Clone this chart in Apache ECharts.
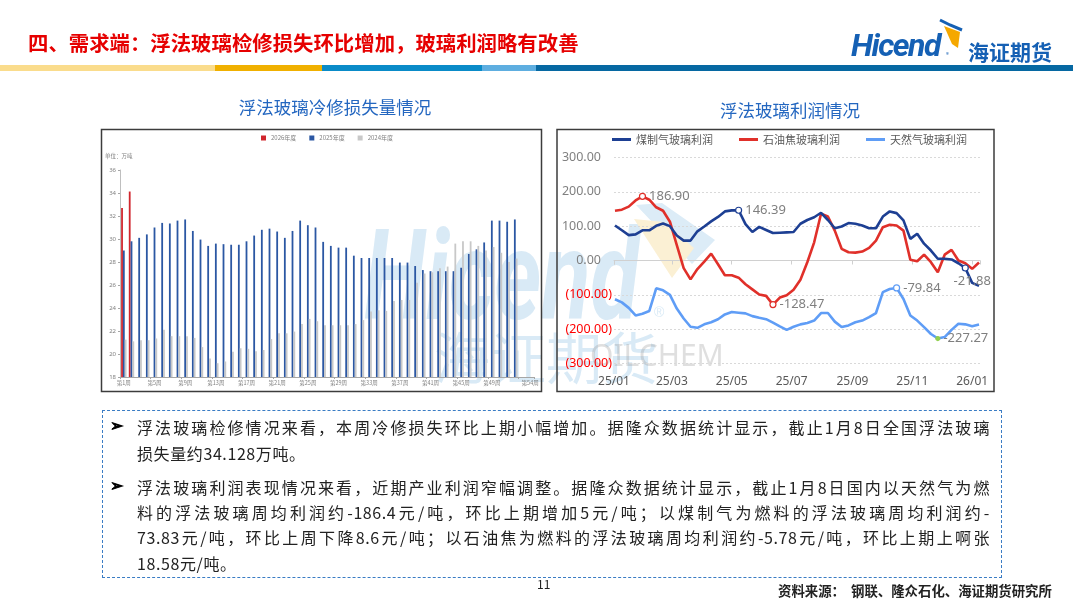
<!DOCTYPE html>
<html><head><meta charset="utf-8">
<script src="https://cdn.jsdelivr.net/npm/echarts@6/dist/echarts.min.js"></script>
<style>
html,body{margin:0;padding:0;background:#fff;}
#wrap{position:relative;width:1080px;height:607px;overflow:hidden;font-family:"Noto Sans CJK SC","Noto Sans",sans-serif;}
#chart{position:absolute;left:0;top:0;width:1080px;height:607px;}
.abs{position:absolute;white-space:nowrap;}
#title{left:28px;top:29px;font-size:20.4px;line-height:26px;font-weight:bold;color:#e60000;}
.band{position:absolute;top:65px;height:6px;}
#logo1{left:851px;top:27px;font-family:Roboto,"Noto Sans",sans-serif;font-size:32px;font-weight:700;font-style:italic;color:#1560b4;letter-spacing:-1.5px;line-height:36px;}
#logo2{left:968px;top:38px;font-size:21px;font-weight:bold;color:#1560b4;line-height:26px;}
#box{left:102px;top:410px;width:898px;height:166px;border:1.5px dashed #3a7cc4;}
.ln{position:absolute;left:137px;width:853px;font-size:16px;line-height:20px;color:#222;letter-spacing:0.6px;white-space:normal;}
.j{text-align:justify;text-align-last:justify;}
.bul{position:absolute;left:110px;font-size:16px;line-height:20px;color:#000;font-weight:bold;font-family:"DejaVu Sans",sans-serif;-webkit-text-stroke:0.9px #000;}
#pg{left:537px;top:576px;font-size:12px;line-height:16px;color:#222;}
#src{left:778px;top:581px;font-size:13.4px;line-height:18px;font-weight:bold;color:#222;}
</style></head>
<body><div id="wrap">
<div id="chart"></div>
<div class="abs" id="title">四、需求端：浮法玻璃检修损失环比增加，玻璃利润略有改善</div>
<div class="band" style="left:0;width:215px;background:#fadc8c;"></div>
<div class="band" style="left:215px;width:107px;background:#f0b000;"></div>
<div class="band" style="left:322px;width:160px;background:#0a8bc8;"></div>
<div class="band" style="left:482px;width:54px;background:#5eaee0;"></div>
<div class="band" style="left:536px;width:537px;background:#0668a2;"></div>
<svg class="abs" style="left:936px;top:16px;" width="34" height="36">
 <polygon points="8,10 24,16 22,32 16,28" fill="#f5a800"/>
 <polyline points="4,4 14,9 26,14" fill="none" stroke="#1560b4" stroke-width="3"/>
</svg>
<div class="abs" id="logo1">Hicend</div>
<div class="abs" style="left:946px;top:50px;font-size:6px;color:#1560b4;">®</div>
<div class="abs" id="logo2">海证期货</div>
<div class="abs" id="box"></div>
<div class="bul" style="top:416px;">➢</div>
<div class="bul" style="top:476px;">➢</div>
<div class="ln j" style="top:417px;">浮法玻璃检修情况来看，本周冷修损失环比上期小幅增加。据隆众数据统计显示，截止1月8日全国浮法玻璃</div>
<div class="ln" style="top:443px;">损失量约34.128万吨。</div>
<div class="ln j" style="top:477px;">浮法玻璃利润表现情况来看，近期产业利润窄幅调整。据隆众数据统计显示，截止1月8日国内以天然气为燃</div>
<div class="ln j" style="top:502px;">料的浮法玻璃周均利润约-186.4元/吨，环比上期增加5元/吨；以煤制气为燃料的浮法玻璃周均利润约-</div>
<div class="ln j" style="top:527px;">73.83元/吨，环比上周下降8.6元/吨；以石油焦为燃料的浮法玻璃周均利润约-5.78元/吨，环比上期上啊张</div>
<div class="ln" style="top:553px;">18.58元/吨。</div>
<div class="abs" id="pg">11</div>
<div class="abs" id="src">资料来源：&nbsp;&nbsp;钢联、隆众石化、海证期货研究所</div>
</div>
<script>
// ---- Left chart: 浮法玻璃冷修损失量 (万吨) ----
const weeks = ['第1周','第2周','第3周','第4周','第5周','第6周','第7周','第8周','第9周','第10周',
 '第11周','第12周','第13周','第14周','第15周','第16周','第17周','第18周','第19周','第20周',
 '第21周','第22周','第23周','第24周','第25周','第26周','第27周','第28周','第29周','第30周',
 '第31周','第32周','第33周','第34周','第35周','第36周','第37周','第38周','第39周','第40周',
 '第41周','第42周','第43周','第44周','第45周','第46周','第47周','第48周','第49周','第50周',
 '第51周','第52周','第53周','第54周'];
const loss2026 = [32.7, 34.128];
const loss2025 = [29.0, 29.8, 30.1, 30.4, 31.0, 31.4, 31.35, 31.6, 31.7, 30.7,
 29.95, 29.4, 29.6, 29.55, 29.5, 29.5, 29.8, 30.3, 30.8, 30.9,
 30.65, 30.1, 30.7, 31.6, 31.2, 31.0, 29.75, 29.4, 29.25, 29.25,
 28.55, 28.35, 28.35, 28.35, 28.35, 28.35, 27.95, 27.95, 27.65, 27.3,
 27.2, 27.2, 27.2, 27.2, 27.5, 28.7, 29.1, 29.7, 31.6, 31.6, 31.5, 31.7];
const loss2024 = [21.25, 21.1, 21.2, 21.2, 21.35, 22.1, 21.55, 21.55, 21.55, 21.4,
 20.6, 19.6, 19.2, 19.35, 20.2, 20.5, 20.45, 20.25, 20.35, 21.3,
 21.8, 21.8, 21.95, 22.6, 23.05, 22.85, 22.5, 22.5, 22.5, 22.5,
 22.6, 22.95, 23.7, 23.8, 23.75, 24.6, 24.7, 24.7, 26.2, 27.0,
 27.1, 27.45, 27.6, 29.6, 29.8, 29.8, 29.4, 29.0, 29.3, 28.8, 28.0, 28.3];
const lossTicks = [18, 20, 22, 24, 26, 28, 30, 32, 34, 36];

// ---- Right chart: 浮法玻璃利润 (元/吨) ----
const dates = ['2025-01-02','2025-01-09','2025-01-16','2025-01-23','2025-01-30',
 '2025-02-06','2025-02-13','2025-02-20','2025-02-27',
 '2025-03-06','2025-03-13','2025-03-20','2025-03-27',
 '2025-04-03','2025-04-10','2025-04-17','2025-04-24',
 '2025-05-01','2025-05-08','2025-05-15','2025-05-22','2025-05-29',
 '2025-06-05','2025-06-12','2025-06-19','2025-06-26',
 '2025-07-03','2025-07-10','2025-07-17','2025-07-24','2025-07-31',
 '2025-08-07','2025-08-14','2025-08-21','2025-08-28',
 '2025-09-04','2025-09-11','2025-09-18','2025-09-25',
 '2025-10-02','2025-10-09','2025-10-16','2025-10-23','2025-10-30',
 '2025-11-06','2025-11-13','2025-11-20','2025-11-27',
 '2025-12-04','2025-12-11','2025-12-18','2025-12-25',
 '2026-01-01','2026-01-08'];
const coalGas = [102, 88, 74, 76, 88, 88, 101, 108, 100, 73,
 58, 58, 85, 99, 114, 127, 143, 146, 146.39, 106,
 83, 98, 89, 80, 81, 82, 83, 107, 118, 126,
 139, 118, 94, 99, 109, 107, 102, 94, 94, 128,
 143, 138, 117, 63, 78, 49, 29, 5, 5, 3,
 -8, -21.88, -65.23, -73.83];
const petCoke = [145, 148, 157, 175, 186.90, 177, 155, 145, 113, 45,
 -22, -55, -25, -3, 20, -11, -43, -43, -50, -69,
 -84, -99, -103, -128.47, -108, -101, -85, -56, -5, 53,
 136, 128, 87, 34, 24, 23, 26, 37, 58, 97,
 104, 102, 87, 2, -2, 17, -5, -34, 17, 31,
 0, -8, -24.36, -5.78];
const natGas = [-113, -122, -138, -160, -155, -147, -81, -87, -100, -140,
 -169, -193, -196, -186, -180, -171, -157, -150, -152, -154,
 -162, -167, -171, -181, -192, -202, -193, -186, -182, -175,
 -153, -153, -178, -194, -189, -180, -175, -165, -153, -92,
 -83, -79.84, -112, -160, -175, -194, -214, -227.27, -223, -202,
 -184, -186, -191.4, -186.4];
const profitTicks = [-300, -200, -100, 0, 100, 200, 300];
const lineNames = ['煤制气玻璃利润', '石油焦玻璃利润', '天然气玻璃利润'];
const barNames = ['2026年度', '2025年度', '2024年度'];

const C_DARK = '#1d3f93', C_RED = '#e0302a', C_LIGHT = '#5f9df6';
const WM = '#d9eaf6';

function lineData(vals, color, labels) {
  return dates.map(function (d, i) {
    const item = { value: [d, vals[i]] };
    const lb = labels[i];
    if (lb) {
      item.symbol = 'circle';
      item.symbolSize = lb.size || 6;
      item.itemStyle = { color: lb.fill || '#fff', borderColor: lb.border || color, borderWidth: 1.2 };
      item.label = { show: true, position: lb.pos, offset: lb.offset || [0, 0], distance: 3,
        formatter: vals[i].toFixed(2), color: '#7f7f7f', fontSize: 13, fontFamily: 'Noto Sans' };
    }
    return item;
  });
}
function ym(v) {
  const d = new Date(v);
  return String(d.getFullYear()).slice(2) + '/' + String(d.getMonth() + 1).padStart(2, '0');
}
const DAY = 86400000;

const chart = echarts.init(document.getElementById('chart'), null, { renderer: 'canvas' });
const option = {
  animation: false,
  textStyle: { fontFamily: 'Noto Sans, Noto Sans CJK SC' },
  legend: [
    { data: barNames, left: 261, top: 135, padding: 0, itemWidth: 5, itemHeight: 5, itemGap: 13, icon: 'rect',
      textStyle: { fontSize: 6, color: '#7f7f7f', fontFamily: 'Noto Sans CJK SC' }, selectedMode: false },
    { data: lineNames, left: 612, top: 134, padding: 0, itemWidth: 19, itemHeight: 3, itemGap: 26, icon: 'rect',
      textStyle: { fontSize: 11, color: '#595959', fontFamily: 'Noto Sans CJK SC' }, selectedMode: false }
  ],
  grid: [
    { left: 120, top: 170, width: 414, height: 207, outerBoundsMode: 'none' },
    { left: 614, top: 157.5, width: 366, height: 206, outerBoundsMode: 'none' }
  ],
  xAxis: [
    { gridIndex: 0, type: 'category', data: weeks, position: 'bottom',
      axisLine: { lineStyle: { color: '#a6a6a6', width: 1 } },
      axisTick: { show: true, interval: function (i) { return i % 4 === 0; }, length: 2, lineStyle: { color: '#a6a6a6' } },
      axisLabel: { interval: function (i) { return (i % 4 === 0 && i <= 48) || i === 53; },
        fontSize: 5.5, color: '#7f7f7f', margin: 3, fontFamily: 'Noto Sans CJK SC' },
      splitLine: { show: false } },
    { gridIndex: 1, type: 'time', position: 'bottom', min: '2025-01-01', max: '2026-01-09',
      splitNumber: 6, minInterval: 61 * DAY, maxInterval: 61 * DAY,
      axisLine: { show: false, onZero: false }, axisTick: { show: false }, splitLine: { show: false },
      axisLabel: { formatter: ym, color: '#595959', fontSize: 12, margin: 12, showMaxLabel: false, hideOverlap: false } },
    { gridIndex: 1, type: 'time', position: 'bottom', min: '2025-01-01', max: '2026-01-09',
      splitNumber: 6, minInterval: 61 * DAY, maxInterval: 61 * DAY,
      axisLine: { show: true, onZero: true, lineStyle: { color: '#d0d0d0', width: 1 } },
      axisTick: { show: true, length: 4, lineStyle: { color: '#d0d0d0' } },
      axisLabel: { show: false }, splitLine: { show: false } }
  ],
  yAxis: [
    { gridIndex: 0, type: 'value', min: lossTicks[0], max: lossTicks[lossTicks.length - 1], interval: 2,
      axisLine: { show: true, lineStyle: { color: '#bfbfbf' } },
      axisTick: { show: true, length: 2, lineStyle: { color: '#a6a6a6' } },
      axisLabel: { fontSize: 6, color: '#808080', margin: 4 }, splitLine: { show: false } },
    { gridIndex: 1, type: 'value', min: profitTicks[0], max: profitTicks[profitTicks.length - 1], interval: 100,
      axisLine: { show: false }, axisTick: { show: false },
      splitLine: { show: true, lineStyle: { color: '#d9d9d9', type: [2, 2], width: 1 } },
      axisLabel: { margin: 2,
        formatter: function (v) { return v < 0 ? '{n|(' + (-v).toFixed(2) + ')}' : '{p|' + v.toFixed(2) + '}'; },
        rich: { n: { color: '#ff0000', fontSize: 12.5, fontFamily: 'Noto Sans' },
                p: { color: '#808080', fontSize: 12.5, fontFamily: 'Noto Sans', padding: [0, 11, 0, 0] } } } }
  ],
  series: [
    { name: barNames[0], type: 'bar', xAxisIndex: 0, yAxisIndex: 0, data: loss2026, barWidth: 1.8, barGap: '0%',
      itemStyle: { color: '#d0262d' }, silent: true },
    { name: barNames[1], type: 'bar', xAxisIndex: 0, yAxisIndex: 0, data: loss2025, barWidth: 1.8, barGap: '0%',
      itemStyle: { color: '#2b57a3' }, silent: true },
    { name: barNames[2], type: 'bar', xAxisIndex: 0, yAxisIndex: 0, data: loss2024, barWidth: 1.8, barGap: '0%',
      itemStyle: { color: '#c8c8c8' }, silent: true },
    { name: lineNames[0], type: 'line', xAxisIndex: 1, yAxisIndex: 1, symbol: 'none', showAllSymbol: true,
      lineStyle: { color: C_DARK, width: 2.6 }, itemStyle: { color: C_DARK }, silent: true, z: 4,
      data: lineData(coalGas, C_DARK, { 18: { pos: 'right' }, 51: { pos: 'bottom', offset: [7, 0] } }) },
    { name: lineNames[1], type: 'line', xAxisIndex: 1, yAxisIndex: 1, symbol: 'none', showAllSymbol: true,
      lineStyle: { color: C_RED, width: 2.6 }, itemStyle: { color: C_RED }, silent: true, z: 3,
      data: lineData(petCoke, C_RED, { 4: { pos: 'right' }, 23: { pos: 'right' } }) },
    { name: lineNames[2], type: 'line', xAxisIndex: 1, yAxisIndex: 1, symbol: 'none', showAllSymbol: true,
      lineStyle: { color: C_LIGHT, width: 2.6 }, itemStyle: { color: C_LIGHT }, silent: true, z: 3,
      data: lineData(natGas, C_LIGHT, { 41: { pos: 'right' }, 47: { pos: 'right', size: 4, fill: '#92d050', border: '#92d050' } }) }
  ],
  graphic: [
    // watermark (under series)
    { type: 'text', x: 364, y: 350, scaleY: 1.4, originX: 0, originY: 0, z: -10, silent: true,
      style: { text: 'Hicend', fill: WM, fontSize: 90, fontWeight: 'bold', fontStyle: 'italic',
        fontFamily: 'Roboto', align: 'left', verticalAlign: 'bottom' } },
    { type: 'polygon', z: -10, silent: true, shape: { points: [[636, 205], [662, 203], [715, 240], [692, 264]] }, style: { fill: '#dcecf7' } },
    { type: 'polygon', z: -9, silent: true, shape: { points: [[634, 219], [664, 222], [694, 248], [672, 278]] }, style: { fill: '#fbf0d4' } },
    { type: 'text', x: 654, y: 313, z: -10, silent: true, style: { text: '®', fill: WM, fontSize: 14, verticalAlign: 'middle' } },
    { type: 'text', x: 434, y: 358, z: -10, silent: true,
      style: { text: '海证期货', fill: WM, fontSize: 56, fontFamily: 'Noto Sans CJK SC', verticalAlign: 'middle' } },
    { type: 'text', x: 590, y: 357, z: -9, silent: true,
      style: { text: 'OILCHEM', fill: 'rgba(150,150,150,0.3)', fontSize: 30, fontFamily: 'Noto Sans', verticalAlign: 'middle' } },
    // frames
    { type: 'rect', silent: true, shape: { x: 101.5, y: 129.5, width: 440, height: 262 }, style: { fill: 'none', stroke: '#3c3c3c', lineWidth: 1.5 } },
    { type: 'rect', silent: true, shape: { x: 557, y: 129.5, width: 437, height: 262 }, style: { fill: 'none', stroke: '#3c3c3c', lineWidth: 1.5 } },
    // chart titles
    { type: 'text', x: 335, y: 107, silent: true,
      style: { text: '浮法玻璃冷修损失量情况', fill: '#2467c0', fontSize: 17.5, fontFamily: 'Noto Sans CJK SC', align: 'center', verticalAlign: 'middle' } },
    { type: 'text', x: 790, y: 110, silent: true,
      style: { text: '浮法玻璃利润情况', fill: '#2467c0', fontSize: 17.5, fontFamily: 'Noto Sans CJK SC', align: 'center', verticalAlign: 'middle' } },
    { type: 'text', x: 105, y: 156, silent: true,
      style: { text: '单位：万吨', fill: '#7f7f7f', fontSize: 5.5, fontFamily: 'Noto Sans CJK SC', verticalAlign: 'middle' } }
  ]
};
chart.setOption(option);
</script>
</body></html>
